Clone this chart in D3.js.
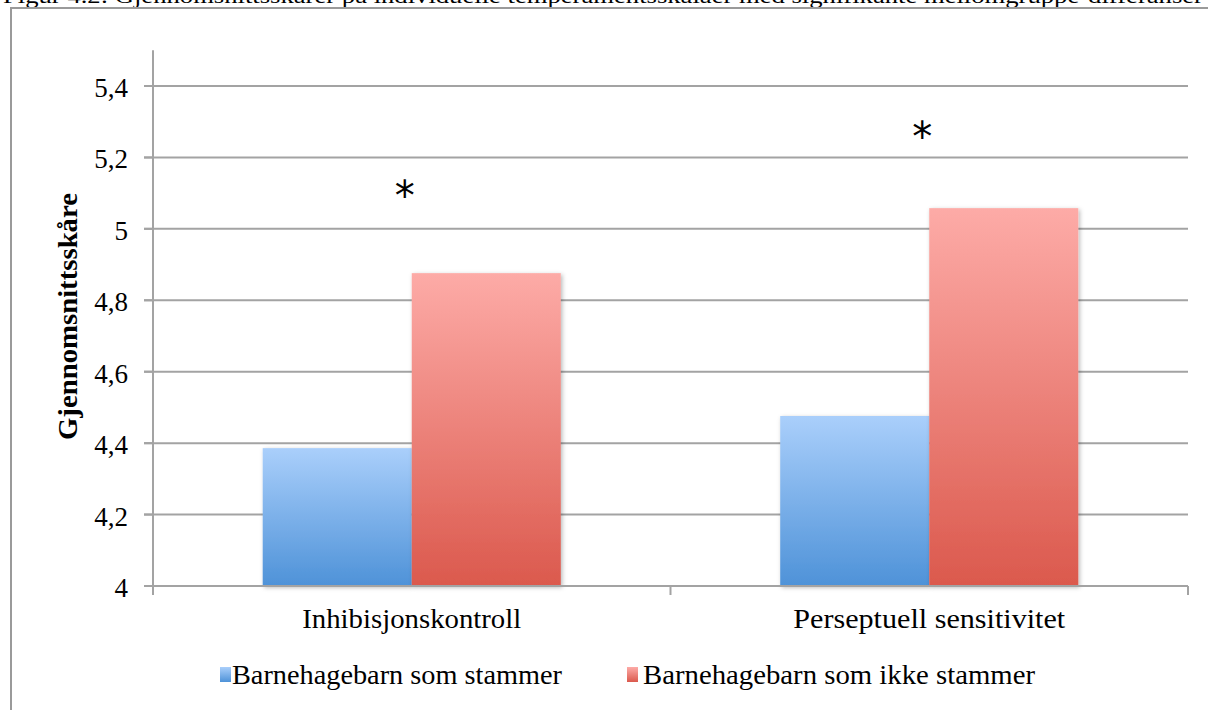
<!DOCTYPE html>
<html>
<head>
<meta charset="utf-8">
<script src="https://cdn.jsdelivr.net/npm/d3@7"></script>
<style>
  html, body { margin: 0; padding: 0; background: #fff; }
  svg { display: block; }
</style>
</head>
<body>
<svg id="chart" width="1208" height="710"></svg>
<script>
// Temperament scales and group means
const categories = ["Inhibisjonskontroll", "Perseptuell sensitivitet"];
const seriesNames = ["Barnehagebarn som stammer", "Barnehagebarn som ikke stammer"];
const stammer = [4.386, 4.476];
const ikkeStammer = [4.876, 5.058];
const significance = [5.107, 5.27]; // where the * markers sit
const yTicks = [4, 4.2, 4.4, 4.6, 4.8, 5, 5.2, 5.4];
const tickLabels = ["4", "4,2", "4,4", "4,6", "4,8", "5", "5,2", "5,4"];
const title = "Figur 4.2: Gjennomsnittsskårer på individuelle temperamentsskalaer med signifikante mellomgruppe-differanser";

const svg = d3.select("#chart");
const serif = "'Liberation Serif', 'DejaVu Serif', serif";
const grid = "#a3a3a3";

// Figure caption (runs off the top edge)
svg.append("text")
  .attr("x", 3).attr("y", 3)
  .attr("textLength", 1200).attr("lengthAdjust", "spacingAndGlyphs")
  .style("font-family", serif).style("font-size", "22px").attr("fill", "#000")
  .text(title);

// Frame around the chart
svg.append("rect")
  .attr("x", 11).attr("y", 8).attr("width", 1220).attr("height", 720)
  .attr("fill", "none").attr("stroke", "#9a9a9a").attr("stroke-width", 2);

const defs = svg.append("defs");
function grad(id, c0, c1) {
  const g = defs.append("linearGradient").attr("id", id)
    .attr("x1", 0).attr("y1", 0).attr("x2", 0).attr("y2", 1);
  g.append("stop").attr("offset", "0%").attr("stop-color", c0);
  g.append("stop").attr("offset", "100%").attr("stop-color", c1);
}
grad("gBlue", "#aacffb", "#4e92d8");
grad("gRed", "#fdaba7", "#db594d");
const shadow = defs.append("filter").attr("id", "shadow")
  .attr("x", "-10%").attr("y", "-10%").attr("width", "130%").attr("height", "130%");
shadow.append("feDropShadow").attr("dx", 1.5).attr("dy", 1.5)
  .attr("stdDeviation", 2).attr("flood-color", "#000").attr("flood-opacity", 0.28);

const plotLeft = 153, plotRight = 1188, plotTop = 50.3, plotBottom = 586;
const y = d3.scaleLinear().domain([4, 5.5]).range([plotBottom, plotTop]);
const x0 = d3.scaleBand().domain(categories).range([plotLeft, plotRight])
  .paddingInner(0.424).paddingOuter(0.212);
const x1 = d3.scaleBand().domain(seriesNames).range([0, x0.bandwidth()]);

// Horizontal gridlines
svg.append("g").selectAll("line").data(yTicks.filter(t => t > 4)).join("line")
  .attr("x1", plotLeft - 9).attr("x2", plotRight)
  .attr("y1", d => y(d)).attr("y2", d => y(d))
  .attr("stroke", grid).attr("stroke-width", 2);

// Bars
const data = categories.map((c, i) => ({c, vals: [
  {s: seriesNames[0], v: stammer[i], fill: "url(#gBlue)"},
  {s: seriesNames[1], v: ikkeStammer[i], fill: "url(#gRed)"}
]}));
const groups = svg.append("g").selectAll("g").data(data).join("g")
  .attr("transform", d => `translate(${x0(d.c)},0)`);
groups.selectAll("rect").data(d => d.vals).join("rect")
  .attr("x", d => x1(d.s)).attr("width", x1.bandwidth())
  .attr("y", d => y(d.v)).attr("height", d => y(4) - y(d.v))
  .attr("fill", d => d.fill).attr("filter", "url(#shadow)");

// Y axis line and ticks
svg.append("line").attr("x1", plotLeft).attr("x2", plotLeft)
  .attr("y1", plotTop).attr("y2", plotBottom + 8)
  .attr("stroke", grid).attr("stroke-width", 2);
svg.append("g").selectAll("line").data(yTicks).join("line")
  .attr("x1", plotLeft - 9).attr("x2", plotLeft)
  .attr("y1", d => y(d)).attr("y2", d => y(d))
  .attr("stroke", grid).attr("stroke-width", 2);
svg.append("g").selectAll("text").data(yTicks).join("text")
  .attr("x", 128).attr("y", d => y(d) + 11)
  .attr("text-anchor", "end")
  .style("font-family", serif).style("font-size", "27px").attr("fill", "#000")
  .text((d, i) => tickLabels[i]);

// X axis baseline and category separators
svg.append("line").attr("x1", plotLeft).attr("x2", plotRight)
  .attr("y1", plotBottom).attr("y2", plotBottom)
  .attr("stroke", grid).attr("stroke-width", 2);
const seps = [plotLeft, (x0(categories[0]) + x0.bandwidth() + x0(categories[1])) / 2, plotRight];
svg.append("g").selectAll("line").data(seps).join("line")
  .attr("x1", d => d).attr("x2", d => d)
  .attr("y1", plotBottom).attr("y2", plotBottom + 9)
  .attr("stroke", grid).attr("stroke-width", 2);
const catW = [219, 272];
svg.append("g").selectAll("text").data(categories).join("text")
  .attr("x", (d, i) => x0(d) + x0.bandwidth() / 2 - catW[i] / 2).attr("y", 628)
  .attr("textLength", (d, i) => catW[i]).attr("lengthAdjust", "spacingAndGlyphs")
  .style("font-family", serif).style("font-size", "27px").attr("fill", "#000")
  .text(d => d);

// Significance markers
svg.append("g").selectAll("text").data(categories).join("text")
  .attr("x", d => x0(d) + x0.bandwidth() / 2 - 7)
  .attr("y", (d, i) => y(significance[i]) + 19)
  .attr("text-anchor", "middle")
  .style("font-family", "'DejaVu Sans', sans-serif").style("font-size", "40px").attr("fill", "#000")
  .text("*");

// Y axis title
svg.append("text")
  .attr("x", 0).attr("y", 0)
  .attr("transform", `translate(77,440) rotate(-90)`)
  .attr("textLength", 247).attr("lengthAdjust", "spacingAndGlyphs")
  .style("font-family", serif).style("font-size", "27px").style("font-weight", "bold")
  .attr("fill", "#000")
  .text("Gjennomsnittsskåre");

// Legend
const legendX = [220, 627];
const legendW = [330, 392];
const legend = svg.append("g").selectAll("g").data(seriesNames).join("g")
  .attr("transform", (d, i) => `translate(${legendX[i]},667)`);
legend.append("rect").attr("width", 11).attr("height", 15)
  .attr("fill", (d, i) => i === 0 ? "url(#gBlue)" : "url(#gRed)");
legend.append("text").attr("x", (d, i) => i === 0 ? 12 : 16).attr("y", 17)
  .attr("textLength", (d, i) => legendW[i]).attr("lengthAdjust", "spacingAndGlyphs")
  .style("font-family", serif).style("font-size", "27px").attr("fill", "#000")
  .text(d => d);
</script>
</body>
</html>
